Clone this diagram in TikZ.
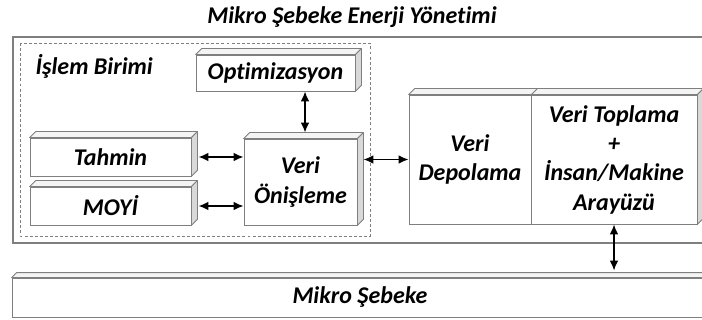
\documentclass[tikz,border=0pt]{standalone}
\usepackage{fontspec}
\setmainfont{Carlito}[Ligatures=NoCommon]
\usetikzlibrary{arrows.meta,calc}
\definecolor{edge}{HTML}{7F7F7F}
\definecolor{side}{HTML}{D9D9D9}
\definecolor{topf}{HTML}{F4F4F4}
% top and side faces of a block drawn as a shallow cube
\newcommand\topface[2]{%
  \draw[face, fill=topf] (#1.north west) -- ++(#2,-#2) -- ($(#1.north east)+(#2,-#2)$) -- (#1.north east) -- cycle;}
\newcommand\sideface[2]{%
  \draw[face, fill=side] (#1.north east) -- ++(#2,-#2) -- ($(#1.south east)+(#2,-#2)$) -- (#1.south east) -- cycle;}
\begin{document}
\begin{tikzpicture}[x=0.75pt,y=-0.75pt,
  lbl/.style={font=\fontsize{18}{22}\selectfont\bfseries\itshape, align=center},
  front/.style 2 args={draw=edge, line width=0.6pt, fill=white,
    minimum width=#1*0.75pt, minimum height=#2*0.75pt, inner sep=0pt, lbl},
  face/.style={draw=edge, line width=0.6pt, line join=round},
  frame/.style={draw=edge, line width=0.8pt},
  arr/.style={{Latex[length=7.5pt,width=6.5pt]}-{Latex[length=7.5pt,width=6.5pt]}, line width=1.2pt},
]
\useasboundingbox (0,0) rectangle (702,320);
\clip (0,0) rectangle (702,320);

% title
\node[lbl] (title) at (352,17) {Mikro Şebeke Enerji Yönetimi};

% energy management frame and processing unit
\draw[frame] (13,37) rectangle (712,243);
\draw[draw=edge, line width=0.6pt, dash pattern=on 2.2pt off 1.6pt] (20,43) rectangle (370,236);
\node[lbl, anchor=west] (unit) at (31,66) {İşlem Birimi};

% blocks
\node[front={159}{36}] (opt) at (275.5,73) {Optimizasyon};
\node[front={161}{38}] (tah) at (110.5,157) {Tahmin};
\node[front={161}{38}] (moyi) at (110.5,206) {MOYİ};
\node[front={113}{86}] (pre) at (300.5,182) {Veri\\Önişleme};
\node[front={122}{129}] (dep) at (470,159.5) {Veri\\Depolama};
\node[front={166}{129}] (acq) at (614,159.5) {Veri Toplama\\+\\İnsan/Makine\\Arayüzü};
\node[front={696}{39}] (grid) at (360,297.5) {Mikro Şebeke};

\foreach \n in {opt,tah,moyi,pre,acq}{\topface{\n}{6}\sideface{\n}{6}}
\topface{dep}{6}
\topface{grid}{5}

% connectors
\coordinate (optx) at (305,0);
\draw[arr] (opt.south -| optx) -- ($(pre.north -| optx)+(0,-6)$);
\draw[arr] ($(tah.east)+(7,0)$) -- (pre.west |- tah.east);
\draw[arr] ($(moyi.east)+(7,0)$) -- (pre.west |- moyi.east);
\draw[arr] ($(pre.east |- dep.west)+(6,0)$) -- (dep.west);
\draw[arr] (acq.south) -- ($(acq.south |- grid.north)+(0,-7)$);
\end{tikzpicture}
\end{document}
